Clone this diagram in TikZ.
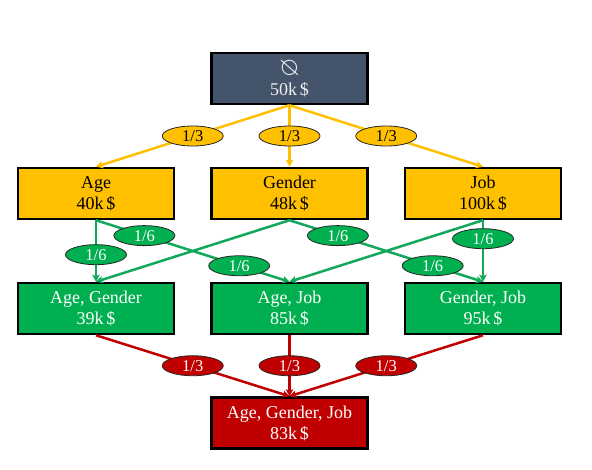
\documentclass[tikz,border=0pt]{standalone}
\usepackage{amssymb}
\usepackage{fontspec}
\setmainfont{Liberation Serif}
\usetikzlibrary{arrows.meta,shapes.geometric}
\definecolor{slate}{HTML}{44546A}
\definecolor{gold}{HTML}{FFC000}
\definecolor{grn}{HTML}{00B050}
\definecolor{grnline}{HTML}{12A85A}
\definecolor{crim}{HTML}{C00000}
\tikzset{
  box/.style={draw=black, line width=2.5pt, minimum width=156pt, minimum height=51pt,
    inner sep=0pt, align=center, font=\fontsize{18}{21}\selectfont},
  rootbox/.style={box, fill=slate, text=white!88!gray},
  onebox/.style={box, fill=gold, text=black},
  twobox/.style={box, fill=grn, text=white},
  allbox/.style={box, fill=crim, text=white},
  lab/.style={ellipse, draw=black!85, line width=0.8pt, minimum width=61pt,
    minimum height=20pt, inner sep=0pt, font=\fontsize{16.5}{16.5}\selectfont},
  ylab/.style={lab, fill=gold, text=black},
  glab/.style={lab, fill=grn, text=white},
  rlab/.style={lab, fill=crim, text=white},
  tip/.style={-{Stealth[length=7pt,width=7.5pt,inset=1.5pt]}},
  yedge/.style={draw=gold, line width=2.5pt, tip},
  gedge/.style={draw=grnline, line width=2.5pt, tip},
  redge/.style={draw=crim, line width=2.5pt, tip},
}
\begin{document}
\begin{tikzpicture}[x=1pt,y=-1pt]
\useasboundingbox (0,0) rectangle (592,470);
% boxes
\node[rootbox] (root) at (289.5,78.5) {\raisebox{-1pt}{\scalebox{-1.45}[1.45]{$\varnothing$}}\\50k\,\$};
\node[onebox] (age) at (96,193.5) {Age\\40k\,\$};
\node[onebox] (gen) at (289.5,193.5) {Gender\\48k\,\$};
\node[onebox] (job) at (483,193.5) {Job\\100k\,\$};
\node[twobox] (ag) at (96,308.5) {Age, Gender\\39k\,\$};
\node[twobox] (aj) at (289.5,308.5) {Age, Job\\85k\,\$};
\node[twobox] (gj) at (483,308.5) {Gender, Job\\95k\,\$};
\node[allbox] (all) at (289.5,423) {Age, Gender, Job\\83k\,\$};
% yellow edges
\draw[yedge] (root.south) -- node[ylab] (y1) {1/3} (age.north);
\draw[yedge] (root.south) -- node[ylab] (y2) {1/3} (gen.north);
\draw[yedge] (root.south) -- node[ylab] (y3) {1/3} (job.north);
% green edges (unlabelled first)
\draw[gedge] (gen.south) -- (ag.north);
\draw[gedge] (job.south) -- (aj.north);
\draw[gedge] (age.south) -- node[glab,pos=0.56] (g1) {1/6} (ag.north);
\draw[gedge] (age.south) -- node[glab,pos=0.25] (g2) {1/6} node[glab,pos=0.74] (g3) {1/6} (aj.north);
\draw[gedge] (gen.south) -- node[glab,pos=0.25] (g4) {1/6} node[glab,pos=0.74] (g5) {1/6} (gj.north);
\draw[gedge] (job.south) -- node[glab,pos=0.3] (g6) {1/6} (gj.north);
% red edges
\draw[redge] (ag.south) -- node[rlab] (r1) {1/3} (all.north);
\draw[redge] (aj.south) -- node[rlab] (r2) {1/3} (all.north);
\draw[redge] (gj.south) -- node[rlab] (r3) {1/3} (all.north);
\end{tikzpicture}
\end{document}
